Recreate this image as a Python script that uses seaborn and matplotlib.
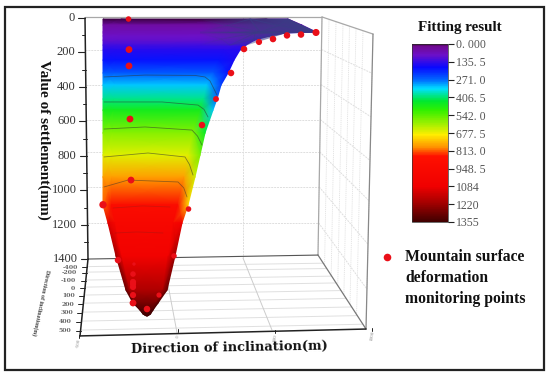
import numpy as np
import pandas as pd
import matplotlib
matplotlib.use("Agg")
import matplotlib.pyplot as plt
from matplotlib.colors import LinearSegmentedColormap, Normalize
from matplotlib.cm import ScalarMappable
from matplotlib.patches import Rectangle
import seaborn as sns

# monitoring points
point_x = [174,176,176,180,184,72,414,468,524,584,636,696,752,808,864,924,132,356,196,192,192,192,192,192,192,296,248]
point_y = [6,183,278,586,940,1083,1108,621,470,319,180,139,122,101,96,84,1404,1380,1427,1485,1531,1543,1560,1607,1653,1607,1688]
point_s = [16,24,24,24,24,28,16,22,18,22,22,20,22,22,22,26,22,16,6,16,20,20,20,20,24,14,22]

# fitted surface silhouette and values by settlement level
surf_y = [6,41,81,87,104,128,157,186,244,319,389,470,534,667,795,922,1085,1189,1380,1578,1653,1694,1717,1728]
surf_left = [72,72,72,72,72,72,72,72,72,72,72,72,72,72,72,72,72,92,124,164,192,220,232,246]
surf_right = [812,868,924,800,740,680,644,620,596,572,544,528,512,480,460,440,412,388,360,328,292,272,262,250]
fit_left = [.0,.03,.05,.05,.06,.07,.09,.11,.14,.19,.24,.29,.34,.43,.49,.57,.60,.82,.90,.96,.98,.99,1.,1.]
fit_mid = [.0,.03,.05,.05,.06,.07,.09,.11,.14,.19,.24,.29,.34,.43,.49,.57,.67,.72,.78,.88,.94,.98,.99,1.]
fit_right = [.02,.05,.08,.08,.08,.09,.10,.11,.12,.14,.17,.20,.24,.33,.42,.48,.53,.78,.90,.96,.98,.99,1.,1.]
FIT_MAX = 1355

# contour lines on the surface
contours = [
    ([76,240,440,480,500,512,528],[342,331,333,342,365,400,447],0.55),
    ([76,308,452,476,492],[487,487,505,530,574],0.55),
    ([76,240,428,450,468],[644,632,650,685,737],0.55),
    ([76,252,400,418,432],[806,783,806,850,911],0.55),
    ([76,172,372,395,408],[980,940,951,985,1038],0.5),
    ([112,230,340],[1102,1090,1096],0.2),
    ([120,208,312],[1247,1241,1247],0.2),
]

cbar_ticks = [0,135.5,271,406.5,542,677.5,813,948.5,1084,1220,1355]
cbar_labels = ["0. 000","135. 5","271. 0","406. 5","542. 0","677. 5","813. 0","948. 5","1084","1220","1355"]
cmap_pos = [0,.012,.06,.13,.20,.25,.32,.37,.46,.51,.58,.63,.80,.88,1]
cmap_col = ["#3a0040","#700a90","#6c10c8","#0808ff","#0068ff","#00e0ff","#00e830","#30f000","#b0f000",
            "#ffee00","#ff9000","#ff1000","#f00000","#b00000","#400000"]

y_ticks = [0,200,400,600,800,1000,1200,1400]
y_minor = [100,300,500,700,900,1100,1300]
floor_pos = [1447,1479,1525,1566,1612,1659,1711,1763,1815]
floor_labels = ["-400","-200","-100","0","100","200","300","400","500"]
wall_lines = [183,386,589,777,980,1189]
wall_verts = [948,976,1004,1032,1058,1084,1112,1152]
x_tick_labels = ["-500","0","500","1000"]
x_tick_x = [-24,372,760,1148]
x_tick_y = [1885,1850,1857,1845]

sns.set_theme(style="white")
plt.rcParams["font.family"] = ["Liberation Serif", "DejaVu Serif"]

fig = plt.figure(figsize=(5.5,3.75), dpi=100, facecolor="white")
ax = fig.add_axes([0,0,1,1])
ax.set_xlim(-340,1860)
ax.set_ylim(2070.6,-104.4)
ax.axis("off")

GRID = dict(color="#dedede", lw=0.7, ls=(0,(2,1)), zorder=1)
EDGE = dict(color="#a8a8a8", lw=0.9, zorder=1.2)

# back wall
for v in wall_lines:
    ax.plot([v/1398*12,948-v/1398*16],[v,v],**GRID)
ax.plot([632,632],[-6,1392],**GRID)
ax.plot([0,948],[-6,-6],**EDGE)
ax.plot([948,932],[-6,1375],**EDGE)
# right wall
ax.plot([948,1152],[-6,93],**EDGE)
ax.plot([1152,1124],[93,1804],color="#888888",lw=0.9,zorder=1.2)
for v in wall_lines:
    ax.plot([948-v/1398*16,1152-v/1398*28],[v,93+v*1.245],**GRID)
for v in wall_verts:
    f=(v-948)/204
    ax.plot([v,v-16-f*12],[-6+99*f,1375+429*f],color="#e2e2e2",lw=0.6,ls=(0,(1.5,1)),zorder=1)
# floor
for v in floor_pos:
    t=(v-1398)/446
    ax.plot([12-32*t,932+192*t],[1398+446*t-5,1375+429*t],color="#e0e0e0",lw=0.7,zorder=1)
ax.plot([12,932],[1398,1375],color="#555555",lw=0.8,zorder=1.2)
ax.plot([932,1124],[1375,1804],color="#777777",lw=0.9,zorder=1.2)
ax.plot([632,748],[1392,1810],color="#cccccc",lw=0.7,zorder=1)
ax.plot([312,368],[1392,1825],color="#cccccc",lw=0.7,zorder=1)

# surface
sy=np.array(surf_y,float); sl=np.array(surf_left,float); sr=np.array(surf_right,float)
w=sr-sl
X=np.column_stack([sl,sl+.10*w,sr-.12*w,sr])
Y=np.column_stack([sy]*4)
C=np.column_stack([fit_left,fit_mid,fit_mid,fit_right])*FIT_MAX
cmap=LinearSegmentedColormap.from_list("fit",list(zip(cmap_pos,cmap_col)))
norm=Normalize(0,FIT_MAX)
ax.pcolormesh(X,Y,C,cmap=cmap,norm=norm,shading="gouraud",zorder=2)

# slate tint of the flat tail
tail_x=np.array([[460,660,812],[460,700,924],[460,680,800],[460,580,644]],float)
tail_y=np.array([[6]*3,[81]*3,[87]*3,[157]*3],float)
tail_c=np.array([[0,.75,1],[0,.75,1],[0,.7,.9],[0,.2,.3]],float)
tail_cmap=LinearSegmentedColormap.from_list("tail",[(0.23,0.23,0.52,0),(0.23,0.23,0.52,1)])
ax.pcolormesh(tail_x,tail_y,tail_c,cmap=tail_cmap,vmin=0,vmax=1,shading="gouraud",zorder=2.1)

for xs,ys,a in contours:
    ax.plot(xs,ys,color="#303030",lw=0.6,alpha=a,zorder=2.2)

# axes lines
ax.plot([0,12],[0,1398],color="#222222",lw=1.1,zorder=3)
ax.plot([12,-20],[1398,1844],color="#222222",lw=1.1,zorder=3)
ax.plot([-20,1124],[1844,1804],color="#222222",lw=1.1,zorder=3)
for v in y_ticks:
    x0=v/1398*12
    ax.plot([x0-28,x0],[v,v],color="#222222",lw=0.8,zorder=3)
    ax.text(x0-42,v,str(v),ha="right",va="center",fontsize=9,color="#333333")
for v in y_minor:
    x0=v/1398*12
    ax.plot([x0-14,x0],[v,v],color="#222222",lw=0.7,zorder=3)
for v,l in zip(floor_pos,floor_labels):
    t=(v-1398)/446
    x0=12-32*t
    ax.plot([x0-20,x0],[v,v],color="#222222",lw=0.7,zorder=3)
    ax.text(x0-38,v,l,ha="right",va="center",fontsize=4.4,color="#666666",family="DejaVu Serif",fontweight="bold")
for x,y,l in zip(x_tick_x,x_tick_y,x_tick_labels):
    ax.text(x,y,l,ha="center",va="center",fontsize=3.6,color="#888888",rotation=80)
    ax.plot([x,x],[y-45,y-28],color="#222222",lw=0.7,zorder=3)

# monitoring points
df=pd.DataFrame({"x":point_x,"y":point_y,"s":point_s})
sns.scatterplot(data=df,x="x",y="y",size="s",sizes=(6,28),size_norm=(6,28),color="#ea0f18",
                linewidth=0,legend=False,ax=ax,zorder=4,clip_on=False)
ax.set_xlabel(""); ax.set_ylabel("")
ax.set_xlim(-340,1860); ax.set_ylim(2070.6,-104.4)

# axis titles
ax.text(-164,708,"Value of settlement(mm)",rotation=270,ha="center",va="center",fontsize=11,fontweight="bold",color="#111111")
ax.text(-176,1650,"Direction of inclination(m)",rotation=-102,ha="center",va="center",fontsize=4.2,fontweight="bold",color="#444444",rotation_mode="anchor")
ax.text(578,1914,"Direction of inclination(m)",rotation=1,ha="center",va="center",fontsize=9.4,fontweight="bold",family="DejaVu Serif",color="#111111")

# frame
fig.add_artist(Rectangle((4.5/550,1-369.5/375),539.5/550,363/375,transform=fig.transFigure,fill=False,ec="#222222",lw=1.6))

# colour bar
cax=fig.add_axes([412/550,1-222/375,36/550,178/375])
cb=fig.colorbar(ScalarMappable(norm=norm,cmap=cmap),cax=cax)
cax.set_ylim(FIT_MAX,0)
cb.set_ticks(cbar_ticks)
cb.set_ticklabels(cbar_labels)
cax.tick_params(axis="y",length=4,width=0.8,color="#222222",labelsize=8.5,labelcolor="#555555",pad=2,right=True)
cb.outline.set_edgecolor("#333333"); cb.outline.set_linewidth(0.5)
fig.text(459.5/550,1-28/375,"Fitting result",ha="center",va="center",fontsize=10.9,fontweight="bold",color="#111111")

# legend
ax.scatter([1208],[1387],s=30,color="#ea0f18",linewidth=0,zorder=4)
for py,s in zip([1387,1509,1631],["Mountain surface","deformation","monitoring points"]):
    ax.text(1280,py,s,ha="left",va="center",fontsize=11.3,fontweight="bold",color="#111111")

fig.savefig("out.png",dpi=100)
